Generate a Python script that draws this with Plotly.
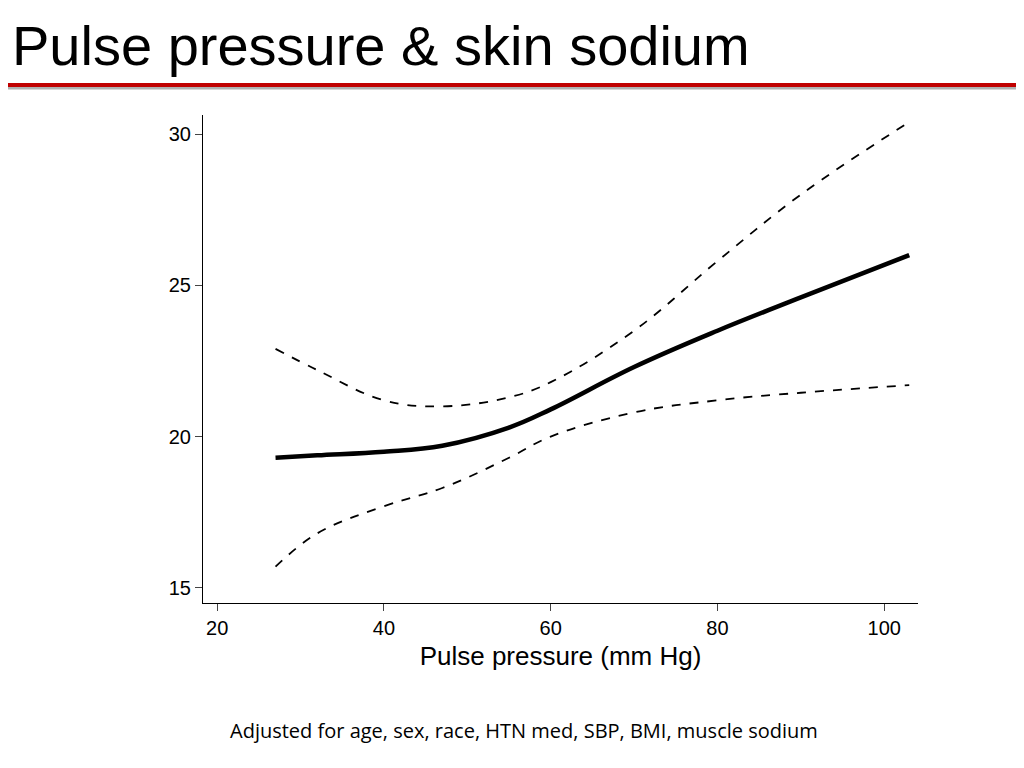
import plotly.graph_objects as go

x_pts = [27, 32, 40, 47, 55, 60, 70, 80, 90, 103]
est = [19.3, 19.38, 19.5, 19.7, 20.3, 20.9, 22.3, 23.5, 24.6, 26.0]
upper = [22.9, 22.2, 21.2, 21.0, 21.3, 21.8, 23.5, 25.8, 28.0, 30.4]
lower = [15.7, 16.8, 17.7, 18.3, 19.3, 20.0, 20.8, 21.2, 21.45, 21.7]
x_ticks = [20, 40, 60, 80, 100]
y_ticks = [15, 20, 25, 30]

fig = go.Figure()
for ys, w, d in [(upper, 1.8, "dash"), (lower, 1.8, "dash"), (est, 4.5, "solid")]:
    fig.add_trace(go.Scatter(x=x_pts, y=ys, mode="lines",
                             line=dict(color="black", width=w, dash=d, shape="spline", smoothing=1.1),
                             showlegend=False, hoverinfo="skip"))

PW, PH = 715, 488
fig.update_layout(
    width=1024, height=768, paper_bgcolor="white", plot_bgcolor="white",
    margin=dict(l=195, r=114, t=107, b=173),
    font=dict(family="Liberation Sans, Arial", color="black"),
    xaxis=dict(range=[18.3, 104.05], tickvals=x_ticks, showgrid=False, zeroline=False,
               showline=True, linecolor="black", linewidth=1, ticks="outside", ticklen=7,
               tickfont=dict(size=20),
               title=dict(text="Pulse pressure (mm Hg)", font=dict(size=26), standoff=8)),
    yaxis=dict(range=[14.5, 30.63], tickvals=y_ticks, showgrid=False, zeroline=False,
               showline=True, linecolor="black", linewidth=1, ticks="outside", ticklen=7,
               tickfont=dict(size=20)),
    shapes=[
        dict(type="line", xref="paper", yref="paper", x0=-0.3, x1=1.2,
             y0=1+(115-88)/PH, y1=1+(115-88)/PH, line=dict(color="#b0b0b0", width=3)),
        dict(type="line", xref="paper", yref="paper", x0=-0.3, x1=1.2,
             y0=1+(115-85)/PH, y1=1+(115-85)/PH, line=dict(color="#c00000", width=4)),
    ],
    annotations=[
        dict(text="Pulse pressure & skin sodium", xref="paper", yref="paper",
             x=(10-203)/PW, y=1+(115-45)/PH, xanchor="left", yanchor="middle",
             showarrow=False, font=dict(size=56, family="Liberation Sans, Arial")),
        dict(text="Adjusted for age, sex, race, HTN med, SBP, BMI, muscle sodium",
             xref="paper", yref="paper", x=(524-203)/PW, y=-(730-603)/PH,
             xanchor="center", yanchor="middle", showarrow=False,
             font=dict(size=20, family="Open Sans")),
    ],
)
fig.write_html("out.html")
